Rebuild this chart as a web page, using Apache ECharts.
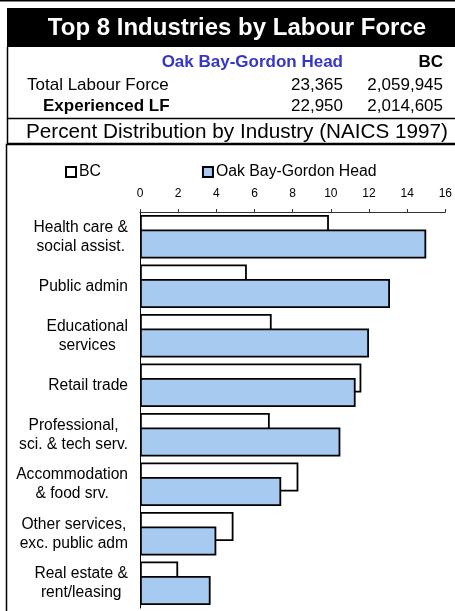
<!DOCTYPE html>
<html>
<head>
<meta charset="utf-8">
<style>
  html, body { margin: 0; padding: 0; background: #fff; }
  #chart { width: 455px; height: 611px; }
</style>
<script src="https://cdn.jsdelivr.net/npm/echarts@6/dist/echarts.min.js"></script>
</head>
<body>
<div id="chart"></div>
<script>
// industries, top to bottom
var industries = [
  'Health care &\nsocial assist.',
  'Public admin',
  'Educational\nservices',
  'Retail trade',
  'Professional,\nsci. & tech serv.',
  'Accommodation\n& food srv.',
  'Other services,\nexc. public adm',
  'Real estate &\nrent/leasing'
];
// percent of experienced labour force
var bcValues = [9.9, 5.6, 6.9, 11.6, 6.8, 8.3, 4.9, 2.0];
var oakBayValues = [15.0, 13.1, 12.0, 11.3, 10.5, 7.4, 4.0, 3.7];
var xTicks = [0, 16, 2]; // min, max, interval

var FONT = '"Liberation Sans", Arial, sans-serif';

var myChart = echarts.init(document.getElementById('chart'));

var options = {
  animation: false,
  backgroundColor: '#fff',
  textStyle: { fontFamily: FONT },
  graphic: [
    // top rule
    { type: 'rect', shape: { x: 0, y: 0, width: 455, height: 1.5 }, style: { fill: '#000' } },
    // title bar
    { type: 'rect', shape: { x: 7, y: 8, width: 448, height: 39 }, style: { fill: '#000' } },
    { type: 'text', x: 237, y: 28, style: { text: 'Top 8 Industries by Labour Force', fill: '#fff', font: 'bold 24px ' + FONT, align: 'center', verticalAlign: 'middle' } },
    // header box
    { type: 'polyline', shape: { points: [[7.5, 47], [7.5, 118.5], [455, 118.5]] }, style: { stroke: '#000', lineWidth: 1.5, fill: null } },
    { type: 'text', x: 343, y: 62, style: { text: 'Oak Bay-Gordon Head', fill: '#3535cc', font: 'bold 17px ' + FONT, align: 'right', verticalAlign: 'middle' } },
    { type: 'text', x: 443, y: 62, style: { text: 'BC', fill: '#000', font: 'bold 17px ' + FONT, align: 'right', verticalAlign: 'middle' } },
    { type: 'text', x: 27, y: 85, style: { text: 'Total Labour Force', fill: '#000', font: '17px ' + FONT, align: 'left', verticalAlign: 'middle' } },
    { type: 'text', x: 343, y: 85, style: { text: '23,365', fill: '#000', font: '17px ' + FONT, align: 'right', verticalAlign: 'middle' } },
    { type: 'text', x: 443, y: 85, style: { text: '2,059,945', fill: '#000', font: '17px ' + FONT, align: 'right', verticalAlign: 'middle' } },
    { type: 'text', x: 43, y: 106, style: { text: 'Experienced LF', fill: '#000', font: 'bold 17px ' + FONT, align: 'left', verticalAlign: 'middle' } },
    { type: 'text', x: 343, y: 106, style: { text: '22,950', fill: '#000', font: '17px ' + FONT, align: 'right', verticalAlign: 'middle' } },
    { type: 'text', x: 443, y: 106, style: { text: '2,014,605', fill: '#000', font: '17px ' + FONT, align: 'right', verticalAlign: 'middle' } },
    // subtitle row
    { type: 'polyline', shape: { points: [[7.5, 118.5], [7.5, 143.5], [455, 143.5]] }, style: { stroke: '#000', lineWidth: 1.5, fill: null } },
    { type: 'text', x: 237, y: 132, style: { text: 'Percent Distribution by Industry (NAICS 1997)', fill: '#000', font: '20.7px ' + FONT, align: 'center', verticalAlign: 'middle' } },
    // chart box
    { type: 'polyline', shape: { points: [[6.5, 611], [6.5, 144.5], [455, 144.5]] }, style: { stroke: '#000', lineWidth: 1.5, fill: null } }
  ],
  legend: {
    left: 65,
    top: 164,
    padding: 0,
    itemWidth: 10,
    itemHeight: 10,
    itemGap: 101,
    icon: 'rect',
    textStyle: { fontSize: 15.8, color: '#000', fontFamily: FONT, padding: [0, 0, 0, -2] },
    data: ['BC', 'Oak Bay-Gordon Head']
  },
  grid: {
    left: 140,
    right: 8,
    top: 212,
    height: 396,
    containLabel: false
  },
  xAxis: {
    type: 'value',
    position: 'top',
    min: xTicks[0],
    max: xTicks[1],
    interval: xTicks[2],
    axisLine: { show: true, lineStyle: { color: '#333', width: 1 } },
    axisTick: { show: true, length: 3, lineStyle: { color: '#333' } },
    axisLabel: { fontSize: 12, color: '#000', margin: 12, fontFamily: FONT },
    splitLine: { show: false }
  },
  yAxis: {
    type: 'category',
    inverse: true,
    data: industries,
    axisLine: { show: true, lineStyle: { color: '#000', width: 1 } },
    axisTick: { show: false },
    axisLabel: {
      margin: 12,
      color: '#000',
      formatter: function (v) {
        return v.split('\n').map(function (s) { return '{c|' + s + '}'; }).join('\n');
      },
      rich: {
        c: { align: 'center', fontSize: 15.6, lineHeight: 19, color: '#000', fontFamily: FONT }
      }
    }
  },
  series: [
    {
      name: 'BC',
      type: 'bar',
      data: bcValues,
      barWidth: 29,
      barGap: '-50%',
      itemStyle: { color: '#fff', borderColor: '#000', borderWidth: 1.8 }
    },
    {
      name: 'Oak Bay-Gordon Head',
      type: 'bar',
      data: oakBayValues,
      barWidth: 29,
      barGap: '-50%',
      itemStyle: { color: '#a6caf0', borderColor: '#000', borderWidth: 1.8 }
    }
  ]
};

myChart.setOption(options, true);
</script>
</body>
</html>
